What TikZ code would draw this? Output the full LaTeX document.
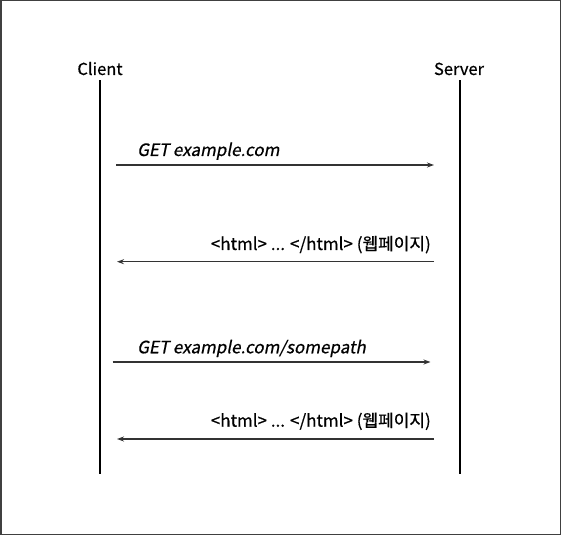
\documentclass[tikz,border=0pt]{standalone}
\usepackage{fontspec}
\setmainfont[AutoFakeSlant=0.2,FakeBold=0.6]{Noto Sans CJK KR}
\usepackage{tkz-euclide}
\usepackage{tikz}
\usetikzlibrary{arrows.meta}
\tikzset{
    lifeline/.style={line width=2pt,black},
    msg/.style={line width=1.3pt,black!80,-{Stealth[length=7pt,width=5pt]}},
    actor/.style={font=\fontsize{16.5}{18}\selectfont,anchor=base,inner sep=0pt},
    msglabel/.style={font=\fontsize{17}{19}\selectfont,inner sep=0pt}
}
\begin{document}
\begin{tikzpicture}[x=1pt,y=1pt]
    \useasboundingbox (0,0) rectangle (561,535);
    \draw[line width=1.5pt,black!75] (0.75,0.75) rectangle (560.25,534.25);
    \tkzDefPoints{99.5/454.5/C1,99.5/61/C2,459.5/454.5/S1,459.5/61/S2}
    \tkzDefPoints{116/370/A1,434/370/B1,434/273.3/A2,117/273.3/B2}
    \tkzDefPoints{112.5/173/A3,430.5/173/B3,434/96/A4,117/96/B4}
    \draw[lifeline] (C1) -- (C2);
    \draw[lifeline] (S1) -- (S2);
    \draw[msg] (A1) -- (B1);
    \draw[msg] (A2) -- (B2);
    \draw[msg] (A3) -- (B3);
    \draw[msg] (A4) -- (B4);
    \node[actor] (client) at (100,460) {Client};
    \node[actor] (server) at (459,460) {Server};
    \node[msglabel,anchor=base west] (get1) at (137,379) {\itshape GET example.com};
    \node[msglabel,anchor=base east] (page1) at (431,285) {<html> ... </html> (웹페이지)};
    \node[msglabel,anchor=base west] (get2) at (137,181.7) {\itshape GET example.com/somepath};
    \node[msglabel,anchor=base east] (page2) at (431,108.3) {<html> ... </html> (웹페이지)};
\end{tikzpicture}
\end{document}
